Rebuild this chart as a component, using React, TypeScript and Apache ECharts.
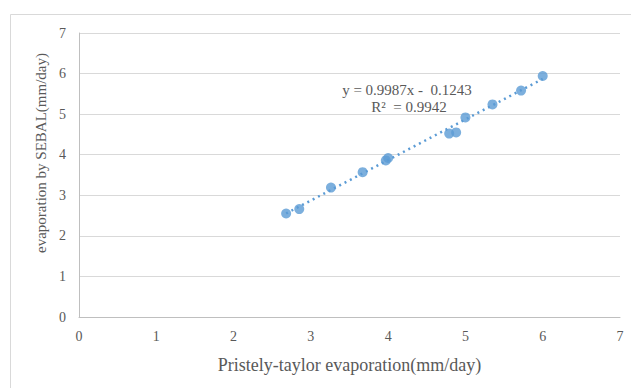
import React, { useEffect, useRef } from "react";
import * as echarts from "echarts";

const xValues = [2.68, 2.85, 3.26, 3.67, 3.97, 4.0, 4.79, 4.88, 5.0, 5.35, 5.72, 6.0];
const yValues = [2.55, 2.66, 3.19, 3.57, 3.86, 3.92, 4.52, 4.55, 4.92, 5.24, 5.58, 5.94];
const slope = 0.9987;
const intercept = -0.1243;
const equationText = "y = 0.9987x -  0.1243";
const r2Text = "R²  = 0.9942";
const xTitle = "Pristely-taylor evaporation(mm/day)";
const yTitle = "evaporation by SEBAL(mm/day)";

export default function App() {
  const ref = useRef<HTMLDivElement>(null);
  useEffect(() => {
    if (!ref.current) return;
    const chart = echarts.init(ref.current, null, { renderer: "svg" });
    const pts = xValues.map((x, i) => [x, yValues[i]]);
    const xMin = Math.min(...xValues);
    const xMax = Math.max(...xValues);
    const trend = [
      [xMin, slope * xMin + intercept],
      [xMax, slope * xMax + intercept],
    ];
    const font = "Liberation Serif";
    chart.setOption({
      animation: false,
      backgroundColor: "#fff",
      grid: { left: 79, right: 11, top: 33, bottom: 71, containLabel: false },
      xAxis: {
        type: "value",
        min: 0,
        max: 7,
        interval: 1,
        name: xTitle,
        nameLocation: "middle",
        nameGap: 39,
        nameTextStyle: { fontFamily: font, fontSize: 18, color: "#595959" },
        axisLine: { show: true, lineStyle: { color: "#bfbfbf" } },
        axisTick: { show: false },
        axisLabel: { fontFamily: font, fontSize: 14, color: "#595959", margin: 12 },
        splitLine: { show: false },
      },
      yAxis: {
        type: "value",
        min: 0,
        max: 7,
        interval: 1,
        axisLine: { show: true, lineStyle: { color: "#bfbfbf" } },
        axisTick: { show: false },
        axisLabel: { fontFamily: font, fontSize: 14, color: "#595959", margin: 13 },
        splitLine: { show: true, lineStyle: { color: "#d9d9d9" } },
      },
      series: [
        {
          type: "line",
          data: trend,
          showSymbol: false,
          symbol: "none",
          lineStyle: { color: "#5b9bd5", width: 2.5, type: [2, 4] },
          z: 1,
        },
        {
          type: "scatter",
          data: pts,
          symbol: "circle",
          symbolSize: 10,
          itemStyle: { color: "#5b9bd5" },
          z: 2,
        },
      ],
      graphic: [
        {
          type: "rect",
          shape: { x: 10.5, y: 14.5, width: 640, height: 400 },
          style: { fill: "none", stroke: "#d9d9d9", lineWidth: 1 },
          z: -1,
        },
        {
          type: "text",
          x: 41,
          y: 153,
          rotation: Math.PI / 2,
          style: {
            text: yTitle,
            fontFamily: font,
            fontSize: 15,
            fill: "#595959",
            align: "center",
            verticalAlign: "middle",
          },
        },
        {
          type: "text",
          x: 407,
          y: 90,
          style: {
            text: equationText,
            fontFamily: font,
            fontSize: 15,
            fill: "#595959",
            align: "center",
            verticalAlign: "middle",
          },
        },
        {
          type: "text",
          x: 409,
          y: 107,
          style: {
            text: r2Text,
            fontFamily: font,
            fontSize: 15,
            fill: "#595959",
            align: "center",
            verticalAlign: "middle",
          },
        },
      ],
    });
    return () => chart.dispose();
  }, []);
  return <div ref={ref} style={{ width: 631, height: 388, position: "absolute", left: 0, top: 0 }} />;
}
